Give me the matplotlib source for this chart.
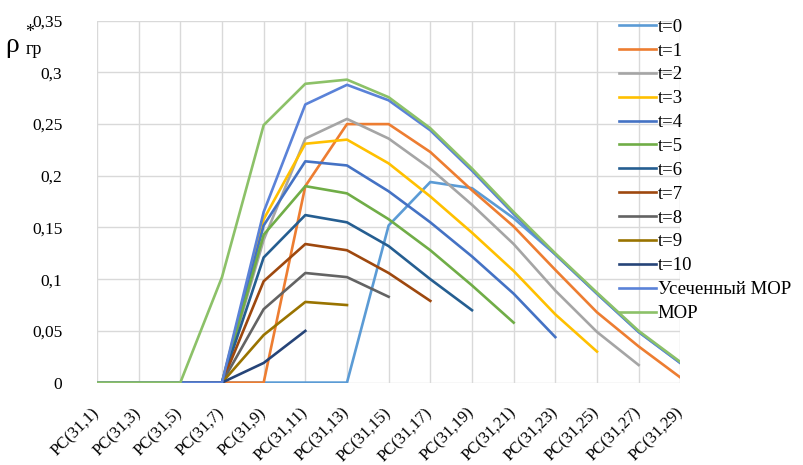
import matplotlib
matplotlib.use('Agg')
import matplotlib.pyplot as plt
import numpy as np

nan = np.nan

categories = ['PC(31,1)', 'PC(31,3)', 'PC(31,5)', 'PC(31,7)', 'PC(31,9)',
              'PC(31,11)', 'PC(31,13)', 'PC(31,15)', 'PC(31,17)', 'PC(31,19)',
              'PC(31,21)', 'PC(31,23)', 'PC(31,25)', 'PC(31,27)', 'PC(31,29)']

t0 = [0, 0, 0, 0, 0, 0, 0, 0.152, 0.194, 0.188, 0.159, 0.124, 0.086, 0.049, 0.019]
t1 = [0, 0, 0, 0, 0, 0.190, 0.250, 0.250, 0.223, 0.186, 0.151, 0.109, 0.068, 0.035, 0.005]
t2 = [0, 0, 0, 0, 0.138, 0.236, 0.255, 0.236, 0.207, 0.172, 0.134, 0.089, 0.049, 0.017, nan]
t3 = [0, 0, 0, 0, 0.158, 0.231, 0.235, 0.212, 0.180, 0.145, 0.108, 0.066, 0.030, nan, nan]
t4 = [0, 0, 0, 0, 0.152, 0.214, 0.210, 0.185, 0.155, 0.122, 0.086, 0.044, nan, nan, nan]
t5 = [0, 0, 0, 0, 0.143, 0.190, 0.183, 0.158, 0.128, 0.094, 0.058, nan, nan, nan, nan]
t6 = [0, 0, 0, 0, 0.121, 0.162, 0.155, 0.132, 0.100, 0.070, nan, nan, nan, nan, nan]
t7 = [0, 0, 0, 0, 0.098, 0.134, 0.128, 0.106, 0.079, nan, nan, nan, nan, nan, nan]
t8 = [0, 0, 0, 0, 0.071, 0.106, 0.102, 0.083, nan, nan, nan, nan, nan, nan, nan]
t9 = [0, 0, 0, 0, 0.046, 0.078, 0.075, nan, nan, nan, nan, nan, nan, nan, nan]
t10 = [0, 0, 0, 0, 0.019, 0.050, nan, nan, nan, nan, nan, nan, nan, nan, nan]
usech_mor = [0, 0, 0, 0, 0.165, 0.269, 0.288, 0.273, 0.244, 0.205, 0.163, 0.124, 0.086, 0.049, 0.019]
mor = [0, 0, 0, 0.102, 0.249, 0.289, 0.293, 0.276, 0.246, 0.207, 0.165, 0.125, 0.087, 0.050, 0.020]

series = [t0, t1, t2, t3, t4, t5, t6, t7, t8, t9, t10, usech_mor, mor]
names = ['t=0', 't=1', 't=2', 't=3', 't=4', 't=5', 't=6', 't=7', 't=8', 't=9', 't=10',
         'Усеченный МОР', 'МОР']
colors = ['#5B9BD5', '#ED7D31', '#A5A5A5', '#FFC000', '#4472C4', '#70AD47', '#255E91',
          '#9E480E', '#636363', '#997300', '#264478', '#5A82D8', '#8CC168']

yticks = [0, 0.05, 0.1, 0.15, 0.2, 0.25, 0.3, 0.35]
ylabels = ['0', '0,05', '0,1', '0,15', '0,2', '0,25', '0,3', '0,35']

serif = 'Liberation Serif'

fig = plt.figure(figsize=(8.04, 4.65), dpi=100)
ax = fig.add_axes([97/804, 82.4/465, (680.3-97)/804, (382.6-20.7)/465])

x = np.arange(len(categories))
for ys, nm, c in zip(series, names, colors):
    ax.plot(x, ys, color=c, lw=1.9, label=nm, solid_joinstyle='round')

ax.set_xlim(0, len(categories)-1)
ax.set_ylim(0, 0.35)
ax.set_yticks(yticks)
ax.set_yticklabels(ylabels, family=serif, fontsize=12.5)
ax.set_xticks(x)
ax.set_xticklabels(categories, family=serif, fontsize=12, rotation=45,
                   ha='right', va='center', rotation_mode='anchor')
ax.tick_params(axis='both', length=0)
ax.tick_params(axis='y', pad=25)
ax.tick_params(axis='x', pad=20)
ax.grid(True, color='#d9d9d9', lw=1)
ax.set_axisbelow(True)
for s in ax.spines.values():
    s.set_visible(False)

leg = fig.legend(loc='upper left', bbox_to_anchor=(612/804, 1-11/465), frameon=False,
                 prop={'family': serif, 'size': 13.5}, handlelength=1.95,
                 handletextpad=0.1, labelspacing=0.36, borderaxespad=0)

# y axis label rho*_gr
fig.text(5/804, 1-52/465, 'ρ', family=serif, fontsize=20, va='baseline')
fig.text(25/804, 1-37/465, '*', family=serif, fontsize=13, va='baseline')
fig.text(26/804, 1-54/465, 'гр', family=serif, fontsize=13, va='baseline')

plt.savefig('out.png', dpi=100)
